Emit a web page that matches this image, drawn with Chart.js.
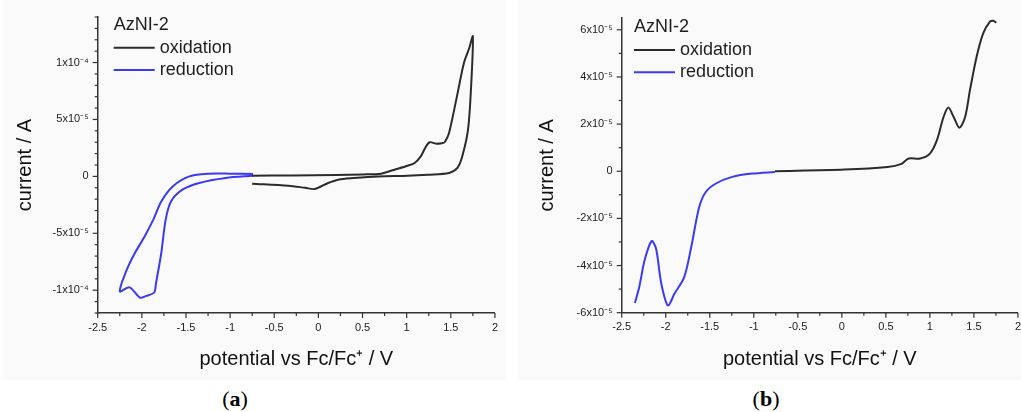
<!DOCTYPE html>
<html>
<head>
<meta charset="utf-8">
<script src="https://cdn.jsdelivr.net/npm/chart.js@4"></script>
<style>
  body { margin: 0; background: #fff; width: 1021px; height: 412px; overflow: hidden; position: relative; font-family: "Liberation Sans", Arial, sans-serif; }
  canvas { position: absolute; top: 0; background: #fafafa; }
  #chart-a { left: 3px; }
  #chart-b { left: 517px; }
  .panel-label { position: absolute; top: 386px; font-family: "Liberation Serif", serif; font-size: 22px; color: #000; transform: translateX(-50%); }
</style>
</head>
<body>
<canvas id="chart-a" width="503" height="380"></canvas>
<canvas id="chart-b" width="512" height="380"></canvas>
<div class="panel-label" style="left:235px">(<b>a</b>)</div>
<div class="panel-label" style="left:766px">(<b>b</b>)</div>
<script>
// potential in V, current in units of 1e-5 A

// (a) oxidation scan (black loop)
const oxA_V = [-0.75, -0.3, 0.2, 0.5, 0.71, 0.86, 1.01, 1.09, 1.16, 1.21, 1.26, 1.33, 1.40, 1.43, 1.48, 1.57, 1.65, 1.71, 1.75,
  1.73, 1.695, 1.63, 1.575, 1.48, 1.24, 1.01, 0.675, 0.4, 0.225, 0.11, -0.04, -0.15, -0.34, -0.75];
const oxA_I = [0.06, 0.08, 0.12, 0.17, 0.24, 0.59, 0.94, 1.18, 1.76, 2.5, 3.0, 2.88, 2.92, 3.0, 3.82, 7.05, 10.0, 11.3, 12.3,
  7.9, 4.1, 1.76, 0.74, 0.3, 0.15, 0.06, 0.0, -0.15, -0.29, -0.58, -1.11, -1.0, -0.82, -0.64];

// (a) reduction scan (blue loop)
const redA_V = [-0.74, -1.0, -1.24, -1.46, -1.65, -1.78, -1.87, -1.97, -2.08, -2.17, -2.25, -2.14, -2.02, -1.95, -1.86, -1.84,
  -1.78, -1.73, -1.67, -1.54, -1.35, -1.05, -0.74];
const redA_I = [0.21, 0.24, 0.24, 0.0, -0.88, -2.2, -3.8, -5.3, -6.75, -8.2, -10.1, -9.75, -10.66, -10.5, -10.2, -9.4,
  -6.75, -3.8, -2.2, -1.17, -0.58, -0.14, 0.06];

// (b) reduction scan (blue)
const redB_V = [-2.35, -2.30, -2.24, -2.16, -2.11, -2.05, -1.975, -1.90, -1.79, -1.71, -1.62, -1.545, -1.43, -1.245, -1.02, -0.76];
const redB_I = [-5.59, -4.9, -3.78, -2.96, -3.28, -4.77, -5.69, -5.19, -4.49, -3.21, -1.52, -0.88, -0.52, -0.24, -0.1, -0.03];

// (b) oxidation scan (black)
const oxB_V = [-0.76, 0.03, 0.52, 0.67, 0.76, 0.89, 1.0, 1.08, 1.155, 1.21, 1.27, 1.335, 1.40, 1.455, 1.53, 1.605, 1.68, 1.72, 1.755];
const oxB_I = [0.0, 0.07, 0.18, 0.3, 0.54, 0.54, 0.75, 1.32, 2.3, 2.7, 2.3, 1.85, 2.3, 3.44, 4.85, 5.85, 6.34, 6.38, 6.3];

// ticks
const xTicks = [-2.5, -2, -1.5, -1, -0.5, 0, 0.5, 1, 1.5, 2];
const xTickLabels = ["-2.5", "-2", "-1.5", "-1", "-0.5", "0", "0.5", "1", "1.5", "2"];
const xMinor = [-2.25, -1.75, -1.25, -0.75, -0.25, 0.25, 0.75, 1.25, 1.75];

const yTicksA = [-10, -5, 0, 5, 10];
const yTickLabelsA = ["-1x10\u207B\u2074", "-5x10\u207B\u2075", "0", "5x10\u207B\u2075", "1x10\u207B\u2074"];
const yMinorA = [-12, -11, -9, -8, -7, -6, -4, -3, -2, -1, 1, 2, 3, 4, 6, 7, 8, 9, 11, 12, 13, 14];

const yTicksB = [-6, -4, -2, 0, 2, 4, 6];
const yTickLabelsB = ["-6x10\u207B\u2075", "-4x10\u207B\u2075", "-2x10\u207B\u2075", "0", "2x10\u207B\u2075", "4x10\u207B\u2075", "6x10\u207B\u2075"];
const yMinorB = [-5, -3, -1, 1, 3, 5];

const BLACK = "#2b2b2b";
const BLUE = "#3a3af2";
const AXIS = "#333";

function points(xs, ys) {
  return xs.map((x, i) => ({ x: x, y: ys[i] }));
}

// tick marks drawn outward, major longer than minor
const tickMarks = {
  id: "tickMarks",
  afterDraw(chart, args, opts) {
    const ctx = chart.ctx;
    const xs = chart.scales.x;
    const ys = chart.scales.y;
    ctx.save();
    ctx.strokeStyle = AXIS;
    ctx.lineWidth = 1.2;
    const mark = (x1, y1, x2, y2) => {
      ctx.beginPath();
      ctx.moveTo(x1, y1);
      ctx.lineTo(x2, y2);
      ctx.stroke();
    };
    xTicks.forEach((v) => { const p = xs.getPixelForValue(v); mark(p, ys.bottom, p, ys.bottom + 5); });
    xMinor.forEach((v) => { const p = xs.getPixelForValue(v); mark(p, ys.bottom, p, ys.bottom + 3); });
    opts.yMajor.forEach((v) => { const p = ys.getPixelForValue(v); mark(xs.left, p, xs.left - 5, p); });
    opts.yMinor.forEach((v) => { const p = ys.getPixelForValue(v); mark(xs.left, p, xs.left - 3, p); });
    ctx.restore();
  },
};

// legend inside the plot, top left
const innerLegend = {
  id: "innerLegend",
  afterDraw(chart, args, opts) {
    const ctx = chart.ctx;
    const area = chart.chartArea;
    const left = area.left + opts.dx;
    ctx.save();
    ctx.font = "18px 'Liberation Sans', Arial, sans-serif";
    ctx.fillStyle = "#1e1e1e";
    ctx.textBaseline = "middle";
    ctx.fillText(opts.title, left, area.top + opts.dy[0]);
    chart.data.datasets.forEach((ds, i) => {
      const y = area.top + opts.dy[i + 1];
      ctx.strokeStyle = ds.borderColor;
      ctx.lineWidth = 2;
      ctx.beginPath();
      ctx.moveTo(left, y);
      ctx.lineTo(left + 41, y);
      ctx.stroke();
      ctx.fillStyle = "#1e1e1e";
      ctx.fillText(ds.label, left + 46, y);
    });
    ctx.restore();
  },
};

function makeChart(canvas, cfg) {
  return new Chart(canvas.getContext("2d"), {
    type: "scatter",
    data: {
      datasets: [
        { label: "oxidation", data: cfg.ox, borderColor: BLACK, backgroundColor: BLACK },
        { label: "reduction", data: cfg.red, borderColor: BLUE, backgroundColor: BLUE },
      ],
    },
    options: {
      responsive: false,
      animation: false,
      devicePixelRatio: 1,
      showLine: true,
      elements: {
        point: { radius: 0, hoverRadius: 0 },
        line: { borderWidth: 2, tension: 0.3 },
      },
      layout: { padding: { top: cfg.top, right: cfg.right, left: 0, bottom: 0 } },
      plugins: {
        legend: { display: false },
        tooltip: { enabled: false },
        tickMarks: { yMajor: cfg.yTicks, yMinor: cfg.yMinor },
        innerLegend: { title: "AzNI-2", dx: cfg.legendDx, dy: cfg.legendDy },
      },
      scales: {
        x: {
          type: "linear",
          min: -2.5,
          max: 2,
          afterBuildTicks: (s) => { s.ticks = xTicks.map((v) => ({ value: v })); },
          afterFit: (s) => { s.height = 380 - cfg.bottom; },
          grid: { display: false, drawTicks: false },
          border: { display: true, color: AXIS, width: 1.5 },
          ticks: {
            padding: 8,
            color: "#222",
            maxRotation: 0,
            autoSkip: false,
            font: { family: "'Liberation Sans', Arial, sans-serif", size: 11 },
            callback: (v) => xTickLabels[xTicks.indexOf(v)],
          },
          title: {
            display: true,
            text: "potential vs Fc/Fc\u207A / V",
            color: "#111",
            font: { family: "'Liberation Sans', Arial, sans-serif", size: 20 },
            padding: { top: 0, bottom: 9 },
          },
        },
        y: {
          type: "linear",
          min: cfg.yMin,
          max: cfg.yMax,
          afterBuildTicks: (s) => { s.ticks = cfg.yTicks.map((v) => ({ value: v })); },
          afterFit: (s) => { s.width = cfg.left; },
          grid: { display: false, drawTicks: false },
          border: { display: true, color: AXIS, width: 1.5 },
          ticks: {
            padding: 9,
            color: "#222",
            autoSkip: false,
            font: { family: "'Liberation Sans', Arial, sans-serif", size: 11 },
            callback: (v) => cfg.yLabels[cfg.yTicks.indexOf(v)],
          },
          title: {
            display: true,
            text: "current / A",
            color: "#111",
            font: { family: "'Liberation Sans', Arial, sans-serif", size: 20 },
            padding: { top: cfg.titlePad, bottom: 0 },
          },
        },
      },
    },
    plugins: [tickMarks, innerLegend],
  });
}

makeChart(document.querySelector("#chart-a"), {
  ox: points(oxA_V, oxA_I),
  red: points(redA_V, redA_I),
  yMin: -12, yMax: 14,
  yTicks: yTicksA, yLabels: yTickLabelsA, yMinor: yMinorA,
  left: 94.7, right: 8.3, top: 17, bottom: 313,
  titlePad: 10,
  legendDx: 16, legendDy: [8, 30.7, 53],
});

makeChart(document.querySelector("#chart-b"), {
  ox: points(oxB_V, oxB_I),
  red: points(redB_V, redB_I),
  yMin: -6, yMax: 6.5,
  yTicks: yTicksB, yLabels: yTickLabelsB, yMinor: yMinorB,
  left: 104.7, right: 7.3, top: 18, bottom: 312.7,
  titlePad: 18,
  legendDx: 12.3, legendDy: [8.7, 32, 54.3],
});
</script>
</body>
</html>
